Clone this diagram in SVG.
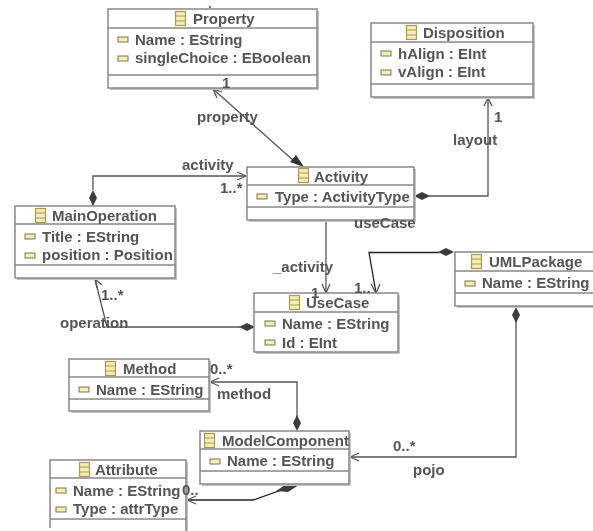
<svg xmlns="http://www.w3.org/2000/svg" width="593" height="531" viewBox="0 0 593 531">
<defs>
<filter id="blur" x="-5%" y="-5%" width="110%" height="110%"><feGaussianBlur stdDeviation="0.45"/></filter>
<g id="cls"><rect x="0.500" y="0.500" width="10" height="14" fill="#f5ecb8" stroke="#a89a50" stroke-width="1.200"/><path d="M0.500 5H10.500M0.500 10H10.500" stroke="#a89a50" stroke-width="1"/></g>
<rect id="att" width="10" height="5" fill="#f5ecb8" stroke="#7a7450" stroke-width="1"/>
<path id="dia" d="M0 0L8 -4L16 0L8 4Z" fill="#3c3c3c"/>
</defs>
<style>
text{font-family:"Liberation Sans",Arial,sans-serif;font-size:15px;font-weight:700;fill:#555}
.box{fill:#fff;stroke:#888;stroke-width:1.500}
.sh{fill:#c4c4c4}
.div{stroke:#888;stroke-width:1.300}
.c{fill:none;stroke:#555;stroke-width:1.300}
.k{stroke:#222}
</style>
<rect width="593" height="531" fill="#fff"/>
<g filter="url(#blur)">
<g id="connectors">
<path class="c" d="M213 89L294 161"/>
<path class="c" d="M213 89L222 92M213 89L217 98"/>
<path d="M304 167L290 162L296 155Z" fill="#333"/>
<path class="c" d="M488 98V196H425"/>
<path class="c" d="M488 98L484 106M488 98L492 106"/>
<use href="#dia" x="414" y="196"/>
<path class="c" d="M93 190V176H246"/>
<path class="c" d="M246 176L237 172M246 176L237 180"/>
<use href="#dia" transform="translate(93 206) rotate(-90)"/>
<path class="c" d="M326 220V293"/>
<path class="c" d="M326 293L322 284M326 293L330 284"/>
<path class="c" d="M95 279L107 327H240"/>
<path class="c" d="M95 279L97 288M95 279L102 285"/>
<use href="#dia" x="239" y="327"/>
<path class="c k" d="M439 252.500H369L376 293"/>
<path class="c" d="M376 293L371 284M376 293L380 284"/>
<use href="#dia" x="438" y="252"/>
<path class="c" d="M516 320V457H350"/>
<path class="c" d="M350 457L359 453M350 457L359 461"/>
<use href="#dia" transform="translate(516 307) rotate(90)"/>
<path class="c" d="M297 420V382H210"/>
<path class="c" d="M210 382L219 378M210 382L219 386"/>
<use href="#dia" transform="translate(297 431) rotate(-90)"/>
<path class="c k" d="M187 500H253L290 487"/>
<path class="c" d="M187 500L196 496M187 500L196 504"/>
<path d="M299 485H285L276 491L288 492Z" fill="#3c3c3c"/>
<circle cx="210" cy="7" r="1" fill="#444"/>
</g>
<g id="Property"><rect class="sh" x="110" y="11" width="209" height="79"/><rect class="box" x="108" y="9" width="209" height="79"/><path class="div" d="M108 28H317M108 75H317"/><use href="#cls" x="175" y="11"/><text x="193" y="24">Property</text><use href="#att" x="118" y="37"/><text x="135" y="45">Name : EString</text><use href="#att" x="118" y="56"/><text x="135" y="63">singleChoice : EBoolean</text></g>
<g id="Disposition"><rect class="sh" x="373" y="25" width="162" height="74"/><rect class="box" x="371" y="23" width="162" height="74"/><path class="div" d="M371 42H533M371 84H533"/><use href="#cls" x="406" y="25"/><text x="423" y="38">Disposition</text><use href="#att" x="381" y="51"/><text x="398" y="59">hAlign : EInt</text><use href="#att" x="381" y="70"/><text x="398" y="77">vAlign : EInt</text></g>
<g id="Activity"><rect class="sh" x="249" y="169" width="167" height="53"/><rect class="box" x="247" y="167" width="167" height="53"/><path class="div" d="M247 185H414M247 207H414"/><use href="#cls" x="298" y="168"/><text x="314" y="182">Activity</text><use href="#att" x="257" y="194"/><text x="275" y="202">Type : ActivityType</text></g>
<g id="MainOperation"><rect class="sh" x="17" y="208" width="160" height="72"/><rect class="box" x="15" y="206" width="160" height="72"/><path class="div" d="M15 224H175M15 265H175"/><use href="#cls" x="35" y="208"/><text x="52" y="221">MainOperation</text><use href="#att" x="25" y="234"/><text x="42" y="242">Title : EString</text><use href="#att" x="25" y="253"/><text x="42" y="260">position : Position</text></g>
<g id="UseCase"><rect class="sh" x="256" y="295" width="144" height="59"/><rect class="box" x="254" y="293" width="144" height="59"/><path class="div" d="M254 312H398"/><use href="#cls" x="289" y="295"/><text x="306" y="308">UseCase</text><use href="#att" x="265" y="321"/><text x="282" y="329">Name : EString</text><use href="#att" x="265" y="340"/><text x="282" y="348">Id : EInt</text></g>
<g id="UMLPackage"><rect class="sh" x="457" y="254" width="150" height="54"/><rect class="box" x="455" y="252" width="150" height="54"/><path class="div" d="M455 271H605M455 293H605"/><use href="#cls" x="471" y="254"/><text x="489" y="267">UMLPackage</text><use href="#att" x="465" y="281"/><text x="482" y="288">Name : EString</text></g>
<g id="Method"><rect class="sh" x="71" y="361" width="140" height="52"/><rect class="box" x="69" y="359" width="140" height="52"/><path class="div" d="M69 377H209M69 399H209"/><use href="#cls" x="105" y="361"/><text x="123" y="374">Method</text><use href="#att" x="79" y="387"/><text x="96" y="395">Name : EString</text></g>
<g id="ModelComponent"><rect class="sh" x="202" y="433" width="149" height="53"/><rect class="box" x="200" y="431" width="149" height="53"/><path class="div" d="M200 449H349M200 471H349"/><use href="#cls" x="204" y="433"/><text x="222" y="446" textLength="127" lengthAdjust="spacingAndGlyphs">ModelComponent</text><use href="#att" x="210" y="459"/><text x="227" y="466">Name : EString</text></g>
<g id="Attribute"><path class="sh" d="M186 462H188V531H186Z"/><path d="M50 528V460H186V531" fill="#fff" stroke="#888" stroke-width="1.500"/><path class="div" d="M50 478H186M50 519H186"/><use href="#cls" x="79" y="462"/><text x="95" y="475">Attribute</text><use href="#att" x="56" y="488"/><text x="73" y="496">Name : EString</text><use href="#att" x="56" y="507"/><text x="73" y="514">Type : attrType</text></g>
<g id="labels">
<text x="197" y="122">property</text><text x="222" y="88" font-size="14">1</text>
<text x="182" y="170">activity</text><text x="220" y="193">1..*</text>
<text x="453" y="145">layout</text><text x="494" y="122">1</text>
<text x="354" y="228">useCase</text>
<text x="273" y="272">_activity</text><text x="311" y="298">1</text><text x="354" y="293">1..</text>
<text x="101" y="300">1..*</text><text x="60" y="328">operation</text>
<text x="210" y="374">0..*</text><text x="217" y="399">method</text>
<text x="393" y="451">0..*</text><text x="413" y="475">pojo</text>
<text x="182" y="495">0..</text>
</g>
</g>
</svg>
